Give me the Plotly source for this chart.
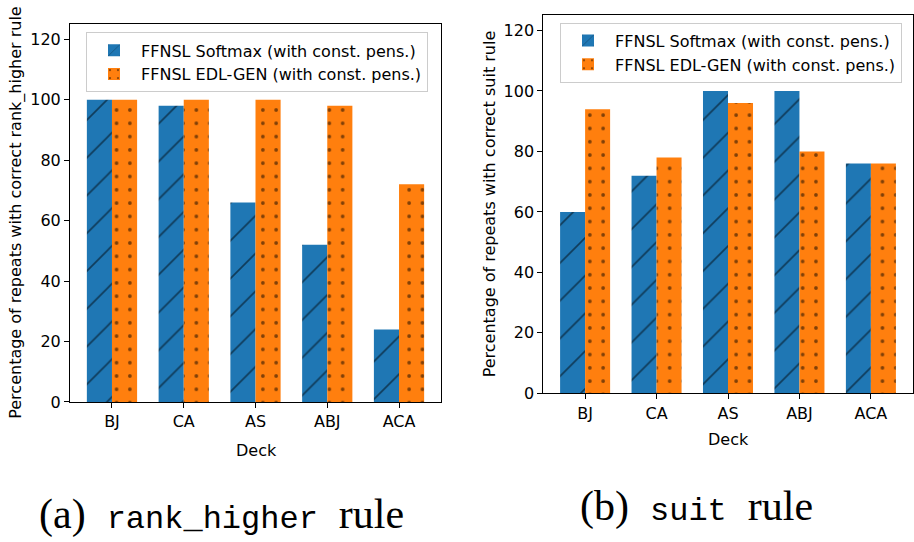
import plotly.graph_objects as go

# Decks on the x axis
decks = ["BJ", "CA", "AS", "ABJ", "ACA"]

# Series names
softmax_name = "FFNSL Softmax (with const. pens.)"
edl_name = "FFNSL EDL-GEN (with const. pens.)"

# (a) rank_higher rule: % of repeats with the correct rule learned
rank_softmax = [100, 98, 66, 52, 24]
rank_edl = [100, 100, 100, 98, 72]

# (b) suit rule
suit_softmax = [60, 72, 100, 100, 76]
suit_edl = [94, 78, 96, 80, 76]

y_ticks = [0, 20, 40, 60, 80, 100, 120]

W, H = 914, 542
BLUE = "#1f77b4"
ORANGE = "#ff7f0e"
FONT = "DejaVu Sans"


def px(x):
    return x / W


def py(y):
    return 1 - y / H


hatch_slash = dict(shape="/", fgcolor="black", size=26.7, solidity=0.062)
hatch_dots = dict(shape=".", fgcolor="black", size=13.3, solidity=0.06)

fig = go.Figure()

panels = [
    ("x", "y", "legend", rank_softmax, rank_edl),
    ("x2", "y2", "legend2", suit_softmax, suit_edl),
]
for xa, ya, leg, soft, edl in panels:
    fig.add_trace(go.Bar(
        x=decks, y=soft, name=softmax_name, xaxis=xa, yaxis=ya, legend=leg,
        marker=dict(color=BLUE, line=dict(width=0), pattern=hatch_slash),
    ))
    fig.add_trace(go.Bar(
        x=decks, y=edl, name=edl_name, xaxis=xa, yaxis=ya, legend=leg,
        marker=dict(color=ORANGE, line=dict(width=0), pattern=hatch_dots),
    ))

axis_common = dict(
    showline=True, mirror=True, linecolor="black", linewidth=1,
    ticks="outside", ticklen=5, tickwidth=1, tickcolor="black",
    showgrid=False, zeroline=False,
    tickfont=dict(family=FONT, size=16, color="black"),
)

legend_common = dict(
    bgcolor="rgba(255,255,255,0.8)", bordercolor="#cccccc", borderwidth=1,
    font=dict(family=FONT, size=16, color="black"),
    xanchor="left", yanchor="top", traceorder="normal", itemwidth=44,
)

fig.update_layout(
    width=W, height=H,
    margin=dict(l=0, r=0, t=0, b=0),
    paper_bgcolor="white", plot_bgcolor="white",
    barmode="group", bargap=0.3, bargroupgap=0,
    xaxis=dict(domain=[px(70), px(441)], anchor="y", type="category",
               range=[-0.585, 4.585], **axis_common),
    yaxis=dict(domain=[py(409.5), py(24)], anchor="x", range=[0, 125.2],
               tickvals=y_ticks, **axis_common),
    xaxis2=dict(domain=[px(543.3), px(912.7)], anchor="y2", type="category",
                range=[-0.585, 4.585], **axis_common),
    yaxis2=dict(domain=[py(400.7), py(15.7)], anchor="x2", range=[0, 125.0],
                tickvals=y_ticks, **axis_common),
    legend=dict(x=px(86), y=py(33), **legend_common),
    legend2=dict(x=px(560), y=py(23), **legend_common),
    showlegend=True,
)

label_font = dict(family=FONT, size=16, color="black")
annotations = [
    dict(text="Percentage of repeats with correct rank_higher rule",
         x=px(16), y=py(216.8), textangle=-90, font=label_font),
    dict(text="Percentage of repeats with correct suit rule",
         x=px(489), y=py(208.2), textangle=-90, font=label_font),
    dict(text="Deck", x=px(256), y=py(459), font=label_font),
    dict(text="Deck", x=px(728), y=py(448), font=label_font),
]

caption_font = dict(family="Liberation Serif", size=42, color="black")
mono = "<span style='font-family:Liberation Mono;font-size:32px'>{}</span>"
annotations += [
    dict(text="(a)\u2002" + mono.format("rank_higher") + "\u2002rule",
         x=px(221.5), y=py(524), font=caption_font),
    dict(text="(b)\u2002" + mono.format("suit") + "\u2002rule",
         x=px(696.5), y=py(516), font=caption_font),
]
for a in annotations:
    a.update(xref="paper", yref="paper", showarrow=False,
             xanchor="center", yanchor="middle")
fig.update_layout(annotations=annotations)

fig.write_html("out.html")
